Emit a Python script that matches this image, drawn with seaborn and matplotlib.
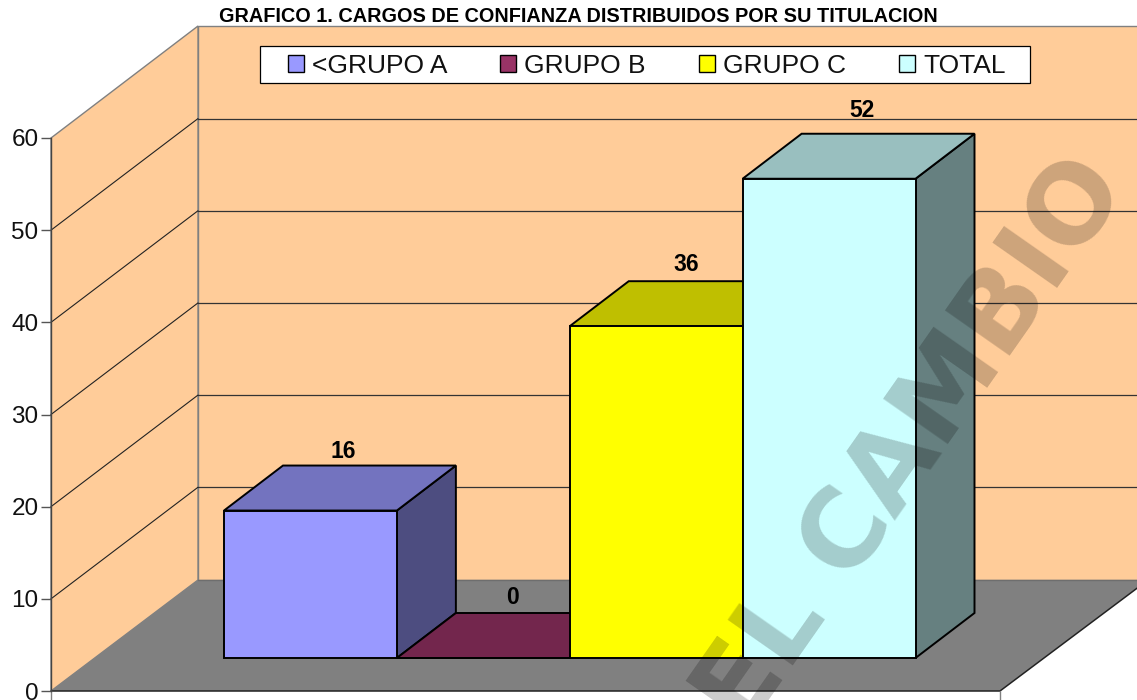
import numpy as np
import pandas as pd
import matplotlib
matplotlib.use("Agg")
import matplotlib.pyplot as plt
from matplotlib.patches import Polygon, Rectangle
import seaborn as sns

# datos del grafico
categorias = ["<GRUPO A", "GRUPO B", "GRUPO C", "TOTAL"]
valores = [16, 0, 36, 52]
ticks_y = [0, 10, 20, 30, 40, 50, 60]
titulo = "GRAFICO 1. CARGOS DE CONFIANZA DISTRIBUIDOS POR SU TITULACION"
marca_agua = "EL CAMBIO"

colores = ["#9999FF", "#993366", "#FFFF00", "#CCFFFF"]
colores_top = ["#7373BF", "#73264D", "#BFBF00", "#99BFBF"]
colores_lado = ["#4D4D80", "#4D1A33", "#808000", "#668080"]
ajuste_etiqueta = [59, 60, 62, 68]  # separacion en px sobre la barra
ajuste_x = [33, 29, 30, 33]

W, H = 1137, 700
ESC = 553.0 / 60  # px por unidad
DX, DY = 59, 45  # profundidad 3D en px

sns.set_theme(style="white")
plt.rcParams["font.family"] = ["Liberation Sans", "DejaVu Sans"]

fig = plt.figure(figsize=(W / 100, H / 100), dpi=100, facecolor="white")

# --- paredes y piso en coordenadas de pixel ---
bg = fig.add_axes([0, 0, 1, 1], zorder=0)
bg.set_xlim(0, W)
bg.set_ylim(H, 0)
bg.axis("off")
bg.add_patch(Polygon([(198, 26), (W + 5, 26), (W + 5, 580), (198, 580)], fc="#FFCC99", ec="#808080", lw=1))
bg.add_patch(Polygon([(51, 138), (198, 26), (198, 580), (51, 691)], fc="#FFCC99", ec="#808080", lw=1))
bg.add_patch(Polygon([(51, 691), (198, 580), (W + 5, 580), (W + 5, 584.5), (1000, 691)], fc="#808080", ec="none"))
bg.plot([198, W], [580, 580], color="#6e6e6e", lw=1)
bg.plot([51, 1000, W + 5], [691, 691, 584.5], color="#222222", lw=1.1)
bg.plot([1000, 1000], [691, 700], color="#808080", lw=1)
bg.plot([51, 51], [691, 700], color="#808080", lw=1)
for v in ticks_y[1:]:
    y_atras = 579.4 - v * ESC
    y_izq = 691 - v * ESC
    if v < 60:
        bg.plot([198, W], [y_atras, y_atras], color="#333333", lw=0.9)
        bg.plot([51, 198], [y_izq, y_atras], color="#222222", lw=0.8)
# marco de la leyenda
bg.add_patch(Rectangle((260, 46), 770, 37, fc="white", ec="black", lw=0.9, zorder=5))

# --- eje y ---
ax_y = fig.add_axes([51 / W, (H - 691) / H, 0.001, 553 / H], zorder=1)
ax_y.patch.set_alpha(0)
ax_y.set_ylim(0, 60)
ax_y.set_yticks(ticks_y)
ax_y.set_xticks([])
ax_y.tick_params(axis="y", left=True, length=7, width=1, color="#555555", labelsize=17.5, pad=2, labelcolor="#111111")
for s in ["top", "right", "bottom"]:
    ax_y.spines[s].set_visible(False)
ax_y.spines["left"].set_color("#444444")
ax_y.spines["left"].set_linewidth(1)

# --- barras ---
df = pd.DataFrame({"grupo": categorias, "valor": valores})
ax = fig.add_axes([224 / W, (H - 658) / H, 691.5 / W, 553 / H], zorder=2)
ax.patch.set_alpha(0)
sns.barplot(data=df, x="grupo", y="valor", hue="grupo", order=categorias, hue_order=categorias,
            palette=colores, dodge=False, width=1, legend=True, ax=ax,
            edgecolor="black", linewidth=1.4, saturation=1)
ax.set_xlim(-0.5, 3.5)
ax.set_ylim(0, 60)
ax.axis("off")

prof_x = DX / (691.5 / 4)
prof_y = DY / ESC
barras = [p for c in ax.containers for p in c]
barras = sorted(barras, key=lambda p: p.get_x())
for i, p in enumerate(barras):
    x0, x1, h = p.get_x(), p.get_x() + p.get_width(), p.get_height()
    p.set_zorder(3 + 2 * i)
    p.set_clip_on(False)
    top = Polygon([(x0, h), (x1, h), (x1 + prof_x, h + prof_y), (x0 + prof_x, h + prof_y)],
                  fc=colores_top[i], ec="black", lw=1.4, zorder=2 + 2 * i, clip_on=False)
    lado = Polygon([(x1, 0), (x1 + prof_x, prof_y), (x1 + prof_x, h + prof_y), (x1, h)],
                   fc=colores_lado[i], ec="black", lw=1.4, zorder=2 + 2 * i, clip_on=False)
    ax.add_patch(lado)
    ax.add_patch(top)
    ax.annotate(str(valores[i]), xy=((x0 + x1) / 2, h), xytext=(ajuste_x[i] * 0.72, ajuste_etiqueta[i] * 0.72),
                textcoords="offset points", ha="center", va="center", fontsize=16.5, fontweight="bold",
                color="black", zorder=20, annotation_clip=False)

# --- leyenda ---
handles, labels = ax.get_legend_handles_labels()
ley = ax.legend(handles, labels, ncol=4, loc="center", bbox_to_anchor=(646.5 / W, (H - 66) / H),
                bbox_transform=fig.transFigure, frameon=False,
                fontsize=19, handlelength=0.62, handleheight=0.62,
                handletextpad=0.3, columnspacing=2.0, borderpad=0.3, borderaxespad=0, labelcolor="#111111")
ley.set_zorder(30)
for h_ley in ley.legend_handles:
    h_ley.set_edgecolor("black")
    h_ley.set_linewidth(1)

# --- titulo y marca de agua ---
fig.text(578 / W, (H - 17) / H, titulo, ha="center", va="center", fontsize=14.3, fontweight="bold", color="black")
fig.text(912 / W, (H - 443) / H, marca_agua, ha="center", va="center", rotation=55, rotation_mode="anchor",
         fontsize=78, fontweight="bold", family="DejaVu Sans", color="black", alpha=0.2, zorder=40)

fig.savefig("out.png", dpi=100)
